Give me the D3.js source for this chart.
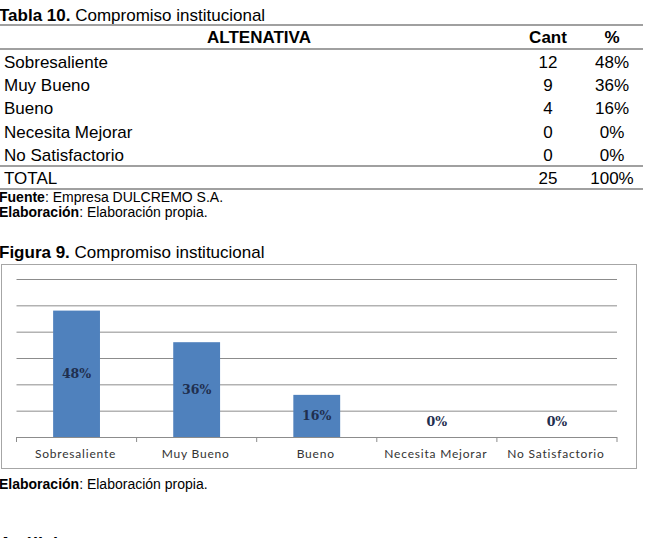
<!DOCTYPE html>
<html>
<head>
<meta charset="utf-8">
<script src="https://cdn.jsdelivr.net/npm/d3@7"></script>
<style>
  body { margin: 0; background: #fff; }
  text { font-family: "Liberation Sans", Arial, sans-serif; }
</style>
</head>
<body>
<script>
(function(){

//datos de la tabla y del grafico
var categorias = ["Sobresaliente", "Muy Bueno", "Bueno", "Necesita Mejorar", "No Satisfactorio"];
var cantidades = [12, 9, 4, 0, 0];
var porcentajes = [48, 36, 16, 0, 0];
var totalCant = 25;
var totalPct = "100%";
var yTicks = [0, 10, 20, 30, 40, 50, 60];

var width = 647,
    height = 538;

var svg = d3.select("body")
    .append("svg")
    .attr("width", width)
    .attr("height", height);

svg.append("rect")
    .attr("width", width)
    .attr("height", height)
    .attr("fill", "#fff");

drawTable();
drawChart();

function titleText(y, bold, rest, size){
    var t = svg.append("text")
        .attr("x", -1)
        .attr("y", y)
        .style("font-size", size + "px");
    t.append("tspan").style("font-weight", "bold").text(bold);
    t.append("tspan").text(rest);
}

function drawTable(){
    titleText(21, "Tabla 10.", " Compromiso institucional", 17);

    var lineYs = [25, 49, 166, 189];
    svg.selectAll(".tline")
        .data(lineYs)
        .enter()
        .append("line")
        .attr("class", "tline")
        .attr("x1", 0)
        .attr("x2", 643)
        .attr("y1", function(d){ return d; })
        .attr("y2", function(d){ return d; })
        .attr("stroke", "#808080")
        .attr("stroke-width", 1.5);

    //encabezado
    var head = [["ALTENATIVA", 259], ["Cant", 548], ["%", 612]];
    svg.selectAll(".head")
        .data(head)
        .enter()
        .append("text")
        .attr("class", "head")
        .attr("x", function(d){ return d[1]; })
        .attr("y", 43)
        .attr("text-anchor", "middle")
        .style("font-weight", "bold")
        .style("font-size", "17px")
        .text(function(d){ return d[0]; });

    //filas
    var rows = categorias.map(function(c, i){
        return [c, cantidades[i], porcentajes[i] + "%"];
    });
    rows.push(["TOTAL", totalCant, totalPct]);

    var rowY = d3.scalePoint()
        .domain(d3.range(rows.length))
        .range([68, 184]);

    var g = svg.selectAll(".row")
        .data(rows)
        .enter()
        .append("g")
        .attr("class", "row")
        .attr("transform", function(d, i){ return "translate(0," + rowY(i) + ")"; });

    g.append("text")
        .attr("x", 4)
        .style("font-size", "17px")
        .text(function(d){ return d[0]; });
    g.append("text")
        .attr("x", 548)
        .attr("text-anchor", "middle")
        .style("font-size", "17px")
        .text(function(d){ return d[1]; });
    g.append("text")
        .attr("x", 612)
        .attr("text-anchor", "middle")
        .style("font-size", "17px")
        .text(function(d){ return d[2]; });

    var notes = [["Fuente", ": Empresa DULCREMO S.A.", 202], ["Elaboración", ": Elaboración propia.", 217]];
    notes.forEach(function(n){
        titleText(n[2], n[0], n[1], 14);
    });
}

function drawChart(){
    titleText(258, "Figura 9.", " Compromiso institucional", 17);

    //marco del grafico
    svg.append("rect")
        .attr("x", 1.5)
        .attr("y", 264.5)
        .attr("width", 635)
        .attr("height", 204)
        .attr("fill", "#fff")
        .attr("stroke", "#a6a6a6");

    var left = 16.5, right = 617;

    var x = d3.scaleBand()
        .domain(categorias)
        .range([left, right])
        .paddingInner(0.61)
        .paddingOuter(0.305);

    var y = d3.scaleLinear()
        .domain([0, 60])
        .range([437, 279]);

    //lineas de cuadricula
    svg.append("g")
        .attr("class", "grid")
        .attr("transform", "translate(" + left + ",0)")
        .call(d3.axisLeft(y)
            .tickValues(yTicks.slice(1))
            .tickSize(-(right - left))
            .tickFormat(""))
        .call(function(g){ g.select(".domain").remove(); })
        .selectAll("line")
        .attr("stroke", "#8c8c8c");

    //eje x
    svg.append("line")
        .attr("x1", left)
        .attr("x2", right)
        .attr("y1", y(0) + 0.5)
        .attr("y2", y(0) + 0.5)
        .attr("stroke", "#8c8c8c");

    var bounds = d3.range(categorias.length + 1).map(function(i){
        return left + i * x.step();
    });
    svg.selectAll(".xtick")
        .data(bounds)
        .enter()
        .append("line")
        .attr("class", "xtick")
        .attr("x1", function(d){ return d; })
        .attr("x2", function(d){ return d; })
        .attr("y1", y(0))
        .attr("y2", y(0) + 5)
        .attr("stroke", "#8c8c8c");

    //barras
    svg.selectAll(".bar")
        .data(porcentajes)
        .enter()
        .append("rect")
        .attr("class", "bar")
        .attr("x", function(d, i){ return x(categorias[i]); })
        .attr("y", function(d){ return y(d); })
        .attr("width", x.bandwidth())
        .attr("height", function(d){ return y(0) - y(d); })
        .attr("fill", "#4f81bd");

    //etiquetas de barras
    svg.selectAll(".blabel")
        .data(porcentajes)
        .enter()
        .append("text")
        .attr("class", "blabel")
        .attr("x", function(d, i){ return x(categorias[i]) + x.bandwidth() / 2; })
        .attr("y", function(d){ return d > 0 ? (y(d) + y(0)) / 2 : y(0) - 15; })
        .attr("dy", "0.35em")
        .attr("text-anchor", "middle")
        .style("font-family", "'DejaVu Serif', serif")
        .style("font-size", "12.5px")
        .style("font-weight", "bold")
        .style("fill", "#1f2f4f")
        .text(function(d){ return d + "%"; });

    //etiquetas de categorias
    svg.selectAll(".xlabel")
        .data(categorias)
        .enter()
        .append("text")
        .attr("class", "xlabel")
        .attr("x", function(d){ return x(d) + x.bandwidth() / 2 - 1; })
        .attr("y", 458)
        .attr("text-anchor", "middle")
        .style("font-family", "Lato, 'Open Sans', sans-serif")
        .style("font-size", "12px")
        .style("letter-spacing", "0.8px")
        .style("fill", "#333")
        .text(function(d){ return d; });

    titleText(489, "Elaboración", ": Elaboración propia.", 14);

    svg.append("text")
        .attr("x", -1)
        .attr("y", 550)
        .style("font-size", "18px")
        .style("font-weight", "bold")
        .text("Análisis");
}

})();
</script>
</body>
</html>
